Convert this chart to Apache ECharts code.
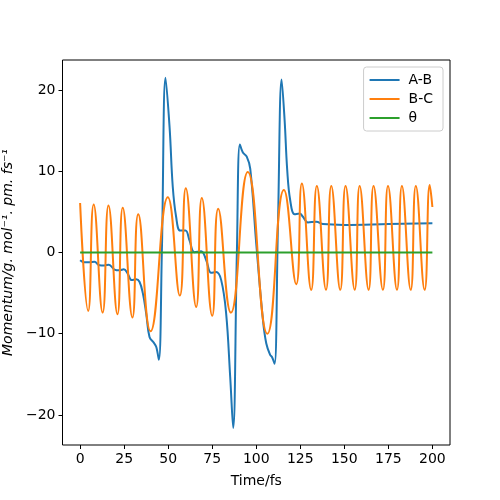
<!DOCTYPE html>
<html>
<head>
<meta charset="UTF-8">
<script src="https://cdn.jsdelivr.net/npm/echarts@6/dist/echarts.min.js"></script>
<style>
  html, body { margin: 0; padding: 0; background: #fff; }
  #main { width: 500px; height: 500px; }
</style>
</head>
<body>
<div id="main"></div>
<script>
// values
var xTicks = [0, 25, 50, 75, 100, 125, 150, 175, 200];
var yTicks = [-20, -10, 0, 10, 20];

var abTime = [0, 2.4, 5.3, 8.1, 11, 13.8, 16.3, 19.5, 22.3, 24.8, 27, 29.3, 31.8, 33.7, 35.6, 37.5, 39.4, 41.8, 43.2, 44.7,
  46.4, 48.5, 50.8, 52.6, 54.5, 56.8, 59.8, 62.1, 64.9, 68.7, 71.6, 74.4, 77.2, 80.1, 82.9, 85.2, 86.9, 89, 90.7, 92.4,
  94.6, 96.6, 100, 103.8, 105.7, 107.9, 109, 110.4, 112.3, 114.4, 116.1, 117.6, 119.3, 121.8, 124.6, 126.5, 129.3, 134.1,
  137.9, 150, 175, 200];
var abValue = [-0.95, -1.2, -1.2, -1.15, -1.56, -1.6, -1.5, -2.1, -2.2, -2.05, -2.6, -3.4, -3.3, -3.6, -5.0, -7.5, -10.4, -11.1, -11.6, -13.2,
  0, 21.5, 15.4, 8.1, 4.4, 2.7, 2.7, 1.5, 0.04, 0.15, -0.95, -2.5, -2.4, -3.4, -7.5, -15.3, -21.6, 0, 13.3, 12.3,
  11.8, 10.3, 1.1, -8.3, -11.2, -12.6, -12.9, -13.7, 3.15, 21.3, 16.3, 10.1, 6.4, 4.7, 4.8, 4.4, 3.7, 3.8,
  3.5, 3.4, 3.5, 3.6];

var bcTime = [0, 4.6, 7.7, 12.8, 16.1, 21.2, 24.2, 29.7, 33, 40, 49.8, 56.6, 60, 65.9, 69.1, 75, 78.4, 85.6, 95.2, 106.3,
  115.7, 122.7, 125.9, 131.2, 134.4, 139.6, 142.6, 147.7, 150.7, 155.9, 158.7, 163.8, 166.6, 171.9, 174.8, 179.9,
  182.7, 187.7, 190.6, 195.6, 198.5, 200];
var bcValue = [6.1, -7.2, 5.9, -7.4, 5.8, -7.6, 5.5, -8.0, 4.7, -9.7, 6.8, -5.3, 7.9, -6.7, 6.7, -7.8, 5.4, -7.4, 9.9, -10.0,
  7.7, -3.9, 8.5, -4.6, 8.2, -4.6, 8.2, -4.6, 8.2, -4.6, 8.2, -4.6, 8.2, -4.6, 8.2, -4.6,
  8.2, -4.6, 8.2, -4.6, 8.3, 5.6];

var thetaTime = [0, 200];
var thetaValue = [0, 0];

function pairs(xs, ys) {
  var out = [];
  for (var i = 0; i < xs.length; i++) out.push([xs[i], ys[i]]);
  return out;
}

// matplotlib style minus sign
function minus(v) {
  return String(v).replace('-', '\u2212');
}

var myChart = echarts.init(document.getElementById('main'));
var font = 'DejaVu Sans';

var option = {
  animation: false,
  textStyle: { fontFamily: font },
  grid: {
    left: 62.5, right: 50, top: 60, bottom: 55,
    containLabel: false,
    outerBoundsMode: 'none',
    show: true, borderColor: '#000', borderWidth: 1
  },
  legend: {
    orient: 'vertical',
    right: 57, top: 67,
    padding: [6, 10, 6, 6],
    itemGap: 5,
    itemWidth: 30, itemHeight: 2,
    icon: 'rect',
    backgroundColor: 'rgba(255,255,255,0.8)',
    borderColor: '#ccc', borderWidth: 1, borderRadius: 3,
    textStyle: { fontFamily: font, fontSize: 14, color: '#000', padding: [0, 0, 0, 4] },
    data: ['A-B', 'B-C', 'θ']
  },
  xAxis: {
    type: 'value',
    min: -10, max: 210,
    name: 'Time/fs',
    nameLocation: 'middle',
    nameGap: 29,
    nameTextStyle: { fontFamily: font, fontSize: 14, color: '#000' },
    axisLine: { show: false, onZero: false },
    splitLine: { show: false },
    axisTick: { show: true, inside: false, length: 4, lineStyle: { color: '#000' }, customValues: xTicks },
    axisLabel: { fontFamily: font, fontSize: 14, color: '#000', margin: 7, customValues: xTicks, formatter: minus }
  },
  yAxis: {
    type: 'value',
    min: -23.7, max: 23.7,
    name: 'Momentum/g. mol⁻¹. pm. fs⁻¹',
    nameLocation: 'middle',
    nameGap: 47,
    nameTextStyle: { fontFamily: font, fontSize: 14, color: '#000', fontStyle: 'italic' },
    axisLine: { show: false, onZero: false },
    splitLine: { show: false },
    axisTick: { show: true, inside: false, length: 4, lineStyle: { color: '#000' }, customValues: yTicks },
    axisLabel: { fontFamily: font, fontSize: 14, color: '#000', margin: 7, customValues: yTicks, formatter: minus }
  },
  series: [
    {
      name: 'A-B', type: 'line', data: pairs(abTime, abValue),
      smooth: 0.4, showSymbol: false,
      itemStyle: { color: '#1f77b4' },
      lineStyle: { color: '#1f77b4', width: 2 }
    },
    {
      name: 'B-C', type: 'line', data: pairs(bcTime, bcValue),
      smooth: 0.5, showSymbol: false,
      itemStyle: { color: '#ff7f0e' },
      lineStyle: { color: '#ff7f0e', width: 2 }
    },
    {
      name: 'θ', type: 'line', data: pairs(thetaTime, thetaValue),
      showSymbol: false,
      itemStyle: { color: '#2ca02c' },
      lineStyle: { color: '#2ca02c', width: 2 }
    }
  ]
};

myChart.setOption(option);
</script>
</body>
</html>
